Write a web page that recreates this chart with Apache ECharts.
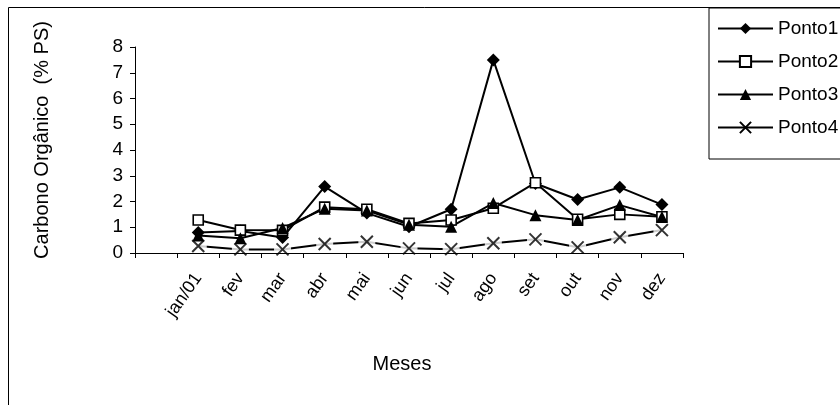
<!DOCTYPE html>
<html>
<head>
<meta charset="utf-8">
<script src="https://cdn.jsdelivr.net/npm/echarts@6/dist/echarts.min.js"></script>
<style>
html,body{margin:0;padding:0;background:#fff;}
#chart{width:840px;height:405px;}
</style>
</head>
<body>
<div id="chart"></div>
<script>
var categories = ['', 'jan/01', 'fev', 'mar', 'abr', 'mai', 'jun', 'jul', 'ago', 'set', 'out', 'nov', 'dez'];
var ponto1 = [0.80, 0.85, 0.60, 2.58, 1.55, 1.02, 1.70, 7.50, 2.70, 2.08, 2.55, 1.88];
var ponto2 = [1.28, 0.89, 0.88, 1.78, 1.70, 1.15, 1.28, 1.74, 2.73, 1.31, 1.50, 1.41];
var ponto3 = [0.68, 0.57, 0.97, 1.72, 1.65, 1.10, 1.02, 1.94, 1.47, 1.28, 1.86, 1.40];
var ponto4 = [0.27, 0.14, 0.14, 0.35, 0.44, 0.18, 0.15, 0.38, 0.53, 0.22, 0.61, 0.89];
var yTicks = [0, 1, 2, 3, 4, 5, 6, 7, 8];

var FONT = '"Liberation Sans", Arial, sans-serif';
var X_PATH = 'path://M0,0L10,10M10,0L0,10';
function pad(a) { return [null].concat(a); }

var chart = echarts.init(document.getElementById('chart'), null, {renderer: 'canvas'});
var LW = 2;
var option = {
  animation: false,
  backgroundColor: '#fff',
  textStyle: {fontFamily: FONT, color: '#000'},
  grid: {left: 135, right: 157, top: 47, bottom: 152, outerBoundsMode: 'none', containLabel: false},
  legend: {
    data: ['Ponto1', 'Ponto2', 'Ponto3', 'Ponto4'],
    orient: 'vertical',
    left: 709, top: 8,
    padding: [11, 12, 22, 8],
    itemWidth: 55, itemHeight: 14, itemGap: 14,
    selectedMode: false,
    borderColor: '#000', borderWidth: 1, borderRadius: 0,
    textStyle: {fontSize: 19, color: '#000', fontFamily: FONT}
  },
  graphic: [
    {type: 'rect', shape: {x: 8.5, y: 7.5, width: 1000, height: 600}, style: {fill: 'none', stroke: '#000', lineWidth: 1}, silent: true, z: -1},
    {type: 'text', x: 42, y: 140, rotation: Math.PI / 2, style: {text: 'Carbono Orgânico  (% PS)', font: '20px ' + FONT, fill: '#000', textAlign: 'center', textVerticalAlign: 'middle'}},
    {type: 'text', x: 402, y: 364, style: {text: 'Meses', font: '20px ' + FONT, fill: '#000', textAlign: 'center', textVerticalAlign: 'middle'}}
  ],
  xAxis: {
    type: 'category',
    data: categories,
    boundaryGap: true,
    axisLine: {show: true, lineStyle: {color: '#000', width: 1}},
    axisTick: {show: true, interval: 0, length: 5, lineStyle: {color: '#000'}},
    axisLabel: {interval: 0, rotate: 55, fontSize: 18, color: '#000', fontFamily: FONT, margin: 22},
    splitLine: {show: false}
  },
  yAxis: {
    type: 'value',
    min: 0, max: 8, interval: 1,
    axisLine: {show: true, lineStyle: {color: '#000', width: 1}},
    axisTick: {show: true, length: 5, lineStyle: {color: '#000'}},
    axisLabel: {fontSize: 19, color: '#000', fontFamily: FONT, margin: 12,
      formatter: function (v) { return yTicks.indexOf(v) >= 0 ? String(v) : ''; }},
    splitLine: {show: false}
  },
  series: [
    {name: 'Ponto1', type: 'line', data: pad(ponto1), symbol: 'diamond', symbolSize: 13,
     itemStyle: {color: '#000'}, lineStyle: {color: '#000', width: LW}, emphasis: {disabled: true}, z: 2},
    {name: 'Ponto2', type: 'line', data: pad(ponto2), symbol: 'rect', symbolSize: 10,
     itemStyle: {color: '#fff', borderColor: '#000', borderWidth: 1.6}, lineStyle: {color: '#000', width: LW}, emphasis: {disabled: true}, z: 2},
    {name: 'Ponto3', type: 'line', data: pad(ponto3), symbol: 'triangle', symbolSize: 12,
     itemStyle: {color: '#000'}, lineStyle: {color: '#000', width: LW}, emphasis: {disabled: true}, z: 2},
    {name: 'Ponto4', type: 'line', data: pad(ponto4), symbol: X_PATH, symbolSize: 10, showSymbol: false,
     itemStyle: {color: 'none', borderColor: '#000', borderWidth: 1.8}, lineStyle: {color: '#000', width: LW}, emphasis: {disabled: true}, z: 1},
    {name: 'p4bg', type: 'scatter', data: pad(ponto4), symbol: 'rect', symbolSize: [17, 7],
     itemStyle: {color: '#fff'}, emphasis: {disabled: true}, silent: true, z: 1.5},
    {name: 'p4x', type: 'scatter', data: pad(ponto4), symbol: X_PATH, symbolSize: 12,
     itemStyle: {color: 'none', borderColor: '#000', borderWidth: 2}, emphasis: {disabled: true}, silent: true, z: 3}
  ]
};
chart.setOption(option);
</script>
</body>
</html>
